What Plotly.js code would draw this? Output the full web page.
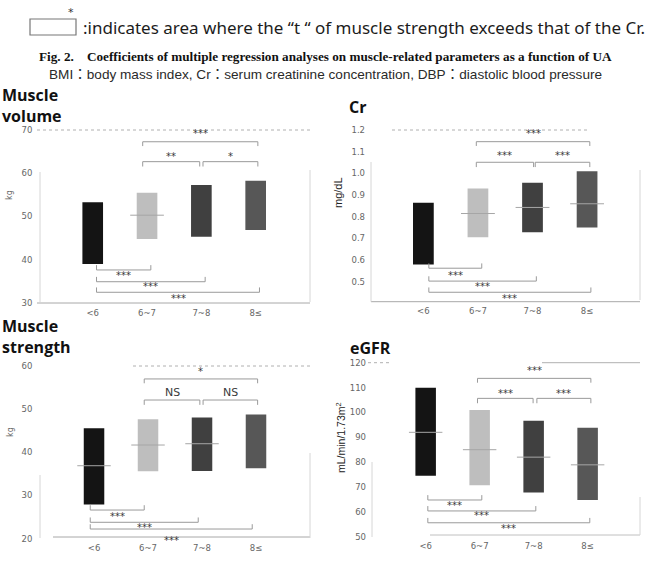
<!DOCTYPE html>
<html>
<head>
<meta charset="utf-8">
<script src="https://cdn.plot.ly/plotly-3.0.1.min.js"></script>
<style>
  html, body { margin: 0; padding: 0; background: #fff; }
  #chart { width: 651px; height: 562px; }
</style>
</head>
<body>
<div id="chart"></div>
<script>
// UA groups (mg/dL)
const categories = ['<6', '6~7', '7~8', '8≤'];

// Muscle volume (kg): box lower / upper edges and median
const mvLow  = [39.0, 44.8, 45.3, 46.9];
const mvHigh = [53.3, 55.5, 57.3, 58.3];
const mvMed  = [null, 50.3, null, null];

// Cr (mg/dL)
const crLow  = [0.58, 0.705, 0.728, 0.75];
const crHigh = [0.865, 0.93, 0.957, 1.01];
const crMed  = [null, 0.815, 0.843, 0.86];

// Muscle strength (kg)
const msLow  = [27.9, 35.6, 35.7, 36.3];
const msHigh = [45.6, 47.7, 48.1, 48.8];
const msMed  = [36.9, 41.7, 42.0, null];

// eGFR (mL/min/1.73m2)
const egLow  = [74.5, 70.7, 67.8, 64.7];
const egHigh = [110, 101, 96.7, 93.8];
const egMed  = [92, 85, 82, 78.9];

// Significance: top = [6~7 vs 8≤, 6~7 vs 7~8, 7~8 vs 8≤]; bottom = [<6 vs 6~7, <6 vs 7~8, <6 vs 8≤]
const mvSigTop = ['***', '**', '*'];
const mvSigBottom = ['***', '***', '***'];
const crSigTop = ['***', '***', '***'];
const crSigBottom = ['***', '***', '***'];
const msSigTop = ['*', 'NS', 'NS'];
const msSigBottom = ['***', '***', '***'];
const egSigTop = ['***', '***', '***'];
const egSigBottom = ['***', '***', '***'];

// Axis ticks
const mvTicks = [30, 40, 50, 60, 70];
const crTicks = [0.5, 0.6, 0.7, 0.8, 0.9, 1.0, 1.1, 1.2];
const msTicks = [20, 30, 40, 50, 60];
const egTicks = [50, 60, 70, 80, 90, 100, 110, 120];

const barColors = ['#141414', '#bebebe', '#404040', '#575757'];

const W = 651, H = 562;
const px = x => x / W;
const py = y => 1 - y / H;

const panels = [
  { id: '', low: mvLow, high: mvHigh, med: mvMed, ticks: mvTicks, fmt: 'd',
    sigTop: mvSigTop, sigBottom: mvSigBottom,
    L: 38.4, R: 310, T: 130, B: 303, xr: [-1.0, 4.0], yr: [29.98, 70.02],
    top: { a: 0.932, at: 0.977, b: 0.817, bt: 0.846, x0: 0.92, x1: 3.04, m0: 1.97, m1: 2.03 },
    bot: { lines: [0.191, 0.123, 0.062], texts: [0.158, 0.094, 0.027], x0: 0.07, dx: 0.07 } },
  { id: '2', low: crLow, high: crHigh, med: crMed, ticks: crTicks, fmt: '.1f',
    sigTop: crSigTop, sigBottom: crSigBottom,
    L: 371, R: 640, T: 130, B: 301.7, xr: [-0.96, 3.97], yr: [0.408, 1.2005],
    top: { a: 0.932, at: 0.98, b: 0.812, bt: 0.849, x0: 0.97, x1: 3.05, m0: 2.02, m1: 2.05 },
    bot: { lines: [0.195, 0.12, 0.055], texts: [0.153, 0.09, 0.02], x0: 0.1, dx: 0.07 } },
  { id: '3', low: msLow, high: msHigh, med: msMed, ticks: msTicks, fmt: 'd',
    sigTop: msSigTop, sigBottom: msSigBottom,
    L: 38.4, R: 310, T: 366, B: 538.7, xr: [-1.03, 4.0], yr: [19.98, 60.02],
    top: { a: 0.925, at: 0.97, b: 0.803, bt: 0.845, x0: 0.93, x1: 3.03, m0: 1.96, m1: 2.02 },
    bot: { lines: [0.166, 0.095, 0.056], texts: [0.127, 0.066, -0.008], x0: -0.07, dx: -0.07 } },
  { id: '4', low: egLow, high: egHigh, med: egMed, ticks: egTicks, fmt: 'd',
    sigTop: egSigTop, sigBottom: egSigBottom,
    L: 372, R: 640, T: 362.7, B: 536.7, xr: [-0.994, 3.97], yr: [49.95, 120.05],
    top: { a: 0.91, at: 0.958, b: 0.795, bt: 0.825, x0: 0.96, x1: 3.06, m0: 1.99, m1: 2.06 },
    bot: { lines: [0.211, 0.148, 0.08], texts: [0.182, 0.119, 0.048], x0: 0.04, dx: 0.04 } }
];

const idx = categories.map((c, i) => i);
const traces = [];
const shapes = [];
const annotations = [];
const layout = {
  width: W, height: H,
  margin: { l: 0, r: 0, t: 0, b: 0 },
  paper_bgcolor: '#ffffff', plot_bgcolor: 'rgba(0,0,0,0)',
  showlegend: false,
  font: { family: 'DejaVu Sans, Liberation Sans, sans-serif', color: '#333' }
};

const lineCol = '#9a9a9a';
function seg(xa, ya, x0, y0, x1, y1) {
  shapes.push({ type: 'line', xref: xa, yref: ya + ' domain', x0: x0, x1: x1, y0: y0, y1: y1,
    line: { color: lineCol, width: 1 } });
}
function bracket(xa, ya, x0, x1, y, tick, label, ty) {
  seg(xa, ya, x0, y, x1, y);
  seg(xa, ya, x0, y, x0, y + tick);
  seg(xa, ya, x1, y, x1, y + tick);
  const ns = label === 'NS';
  annotations.push({ xref: xa, yref: ya + ' domain', x: (x0 + x1) / 2, y: ty,
    text: label, showarrow: false, xanchor: 'center', yanchor: 'middle',
    font: { size: ns ? 11 : 10, color: '#3a3a3a', family: 'DejaVu Sans' } });
}

panels.forEach(p => {
  const xa = 'x' + p.id, ya = 'y' + p.id;
  // floating boxes (lower edge to upper edge)
  traces.push({
    type: 'bar', xaxis: xa, yaxis: ya, x: idx,
    base: p.low, y: p.high.map((h, i) => h - p.low[i]),
    width: 0.38, marker: { color: barColors, line: { width: 0 } },
    hoverinfo: 'skip'
  });
  // median ticks
  const mx = [], my = [];
  p.med.forEach((m, i) => {
    if (m === null) return;
    mx.push(i - 0.31, i + 0.31, null);
    my.push(m, m, null);
  });
  traces.push({ type: 'scatter', mode: 'lines', xaxis: xa, yaxis: ya, x: mx, y: my,
    line: { color: '#a6a6a6', width: 1 }, hoverinfo: 'skip', connectgaps: false });

  layout['xaxis' + p.id] = {
    domain: [px(p.L), px(p.R)], anchor: ya, range: p.xr,
    tickvals: idx, ticktext: categories, showgrid: false, zeroline: false, showline: false,
    ticks: '', ticklabelstandoff: 3, tickfont: { size: 8.5, color: '#666' }, fixedrange: true
  };
  layout['yaxis' + p.id] = {
    domain: [py(p.B), py(p.T)], anchor: xa, range: p.yr,
    tickvals: p.ticks, tickformat: p.fmt, showgrid: false, zeroline: false, showline: false,
    ticks: '', ticklabelstandoff: 5, tickfont: { size: 8.5, color: '#666' }, fixedrange: true
  };

  // significance brackets above the boxes
  const t = p.top;
  bracket(xa, ya, t.x0, t.x1, t.a, -0.025, p.sigTop[0], t.at);
  bracket(xa, ya, t.x0, t.m0, t.b, -0.028, p.sigTop[1], t.bt);
  bracket(xa, ya, t.m1, t.x1, t.b, -0.028, p.sigTop[2], t.bt);
  // significance brackets below the boxes
  const b = p.bot;
  [1, 2, 3].forEach((j, k) => {
    bracket(xa, ya, b.x0, j + b.dx, b.lines[k], 0.028, p.sigBottom[k], b.texts[k]);
  });
});

// faint frame lines around each panel
function pline(x0, y0, x1, y1, col, dash) {
  shapes.push({ type: 'line', xref: 'paper', yref: 'paper', x0: px(x0), x1: px(x1), y0: py(y0), y1: py(y1),
    line: { color: col, width: 1, dash: dash || 'solid' } });
}
const gTop = '#b0b0b0', gSide = '#d6d6d6';
// muscle volume
pline(37, 130, 310, 130, gTop, 'dot');
pline(37, 303, 310, 303, '#a8a8a8', 'solid');
pline(40, 172, 40, 302, gSide);
pline(310, 170, 310, 302, gSide);
// Cr
pline(392, 130, 588, 130, gTop, 'dot');
pline(371, 301.7, 640, 301.7, '#a8a8a8');
pline(371, 162, 371, 301.7, gSide);
pline(640, 170, 640, 300, gSide);
// muscle strength
pline(133, 366, 310, 366, gTop, 'dot');
pline(53, 537, 310, 537, '#a8a8a8');
pline(40, 475, 40, 538, gSide);
pline(310, 453, 310, 538, gSide);
// eGFR
pline(368, 362.7, 390, 362.7, gTop, 'dot');
pline(542, 362.7, 640, 362.7, gTop, 'solid');
pline(430, 535, 640, 535, '#c0c0c0');
pline(372, 462, 372, 537, gSide);
pline(640, 497, 640, 535, gSide);

// panel titles
function pa(x, y, text, opts) {
  annotations.push(Object.assign({ xref: 'paper', yref: 'paper', x: px(x), y: py(y), text: text,
    showarrow: false, xanchor: 'left', yanchor: 'middle', align: 'left' }, opts));
}
const titleFont = { family: 'Open Sans, sans-serif', size: 16, color: '#111', weight: 'bold' };
pa(0, 105.5, 'Muscle<br>volume', { font: titleFont });
pa(347, 106.7, 'Cr', { font: titleFont });
pa(0, 336.5, 'Muscle<br>strength', { font: titleFont });
pa(348, 348.3, 'eGFR', { font: titleFont });

// axis titles
pa(10, 195, 'kg', { xanchor: 'center', textangle: -90, font: { size: 8, color: '#666' } });
pa(10, 432, 'kg', { xanchor: 'center', textangle: -90, font: { size: 8, color: '#666' } });
pa(338, 193, 'mg/dL', { xanchor: 'center', textangle: -90, font: { size: 11, color: '#222', family: 'Liberation Sans' } });
pa(340, 438, 'mL/min/1.73m<sup>2</sup>', { xanchor: 'center', textangle: -90, font: { size: 10.5, color: '#222', family: 'Liberation Sans' } });

// header lines
shapes.push({ type: 'rect', xref: 'paper', yref: 'paper', x0: px(30), x1: px(76), y0: py(35), y1: py(19),
  line: { color: '#777', width: 1.2 }, fillcolor: 'rgba(0,0,0,0)' });
pa(71, 12, '*', { xanchor: 'center', font: { size: 11, color: '#333' } });
pa(81, 27, ':indicates area where the “t “ of muscle strength exceeds that of the Cr.',
  { font: { family: 'Noto Sans, sans-serif', size: 17, color: '#1c1c1c' } });
pa(325, 57, 'Fig. 2.\u00a0\u00a0\u00a0\u00a0Coefficients of multiple regression analyses on muscle-related parameters as a function of UA',
  { xanchor: 'center', font: { family: 'Liberation Serif, serif', size: 13.2, color: '#111', weight: 'bold' } });
pa(325, 75, 'BMI：body mass index, Cr：serum creatinine concentration, DBP：diastolic blood pressure',
  { xanchor: 'center', font: { family: 'Liberation Sans, Noto Sans CJK JP, sans-serif', size: 13.6, color: '#2a2a2a' } });

// x-axis caption at the bottom edge
pa(325, 566, 'UA (mg/dL)', { xanchor: 'center', font: { size: 11, color: '#333' } });

layout.shapes = shapes;
layout.annotations = annotations;

Plotly.newPlot('chart', traces, layout, { staticPlot: true, displayModeBar: false });
</script>
</body>
</html>
